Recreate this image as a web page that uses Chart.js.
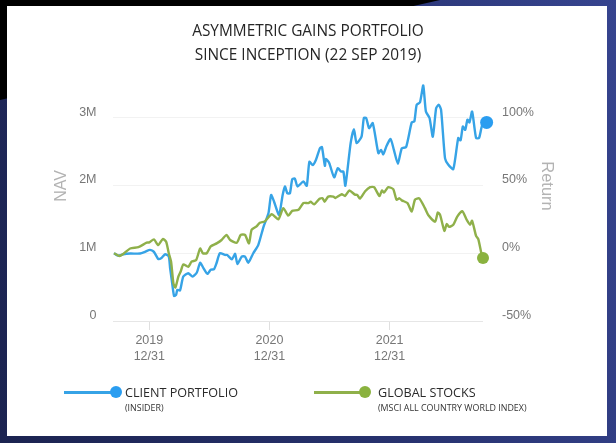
<!DOCTYPE html>
<html><head><meta charset="utf-8">
<script src="https://cdn.jsdelivr.net/npm/chart.js@4/dist/chart.umd.min.js"></script>
<style>
html,body{margin:0;padding:0;width:616px;height:443px;overflow:hidden;background:linear-gradient(75deg,#1b2350 0%,#27326f 55%,#36448f 100%);}
#corner{position:absolute;left:0;top:0;width:616px;height:443px;background:#000;clip-path:polygon(0 0,440px 0,0 100px);}
#panel{position:absolute;left:7px;top:6px;width:600px;height:430px;background:#fff;}
canvas{position:absolute;left:0;top:0;}
.lg{position:absolute;font-family:"Open Sans",sans-serif;white-space:nowrap;color:#2a2a2a;}
.main{font-size:12.6px;top:385px;line-height:16px;}
.sub{font-size:8.9px;top:401.5px;line-height:11px;color:#333;}
.ln{position:absolute;height:3px;top:391px;}
.dt{position:absolute;width:12px;height:12px;border-radius:50%;top:386px;}
.ax{position:absolute;width:80px;height:20px;line-height:20px;text-align:center;font-family:"Liberation Sans",Arial,sans-serif;color:#b3b3b3;}
</style></head>
<body>
<div id="corner"></div><div id="panel"></div>
<canvas id="c" width="616" height="443"></canvas>
<div class="ax" style="left:21px;top:175.5px;font-size:16px;transform:rotate(-90deg)">NAV</div>
<div class="ax" style="left:508px;top:176px;font-size:16.5px;transform:rotate(90deg)">Return</div>
<div class="ln" style="left:64px;width:50px;background:#36a3e6"></div><div class="dt" style="left:110px;background:#2a9df0"></div>
<div class="lg main" style="left:125px">CLIENT PORTFOLIO</div><div class="lg sub" style="left:125px">(INSIDER)</div>
<div class="ln" style="left:314px;width:48px;background:#8fb04a"></div><div class="dt" style="left:359px;background:#8ab23f"></div>
<div class="lg main" style="left:378px">GLOBAL STOCKS</div><div class="lg sub" style="left:378px">(MSCI ALL COUNTRY WORLD INDEX)</div>
<script>
const titleLines = ["ASYMMETRIC GAINS PORTFOLIO","SINCE INCEPTION (22 SEP 2019)"];
const xTickDays = [107,471,835];
const xTickLabels = [["2019","12/31"],["2020","12/31"],["2021","12/31"]];
const navTicks = [0,1,2,3];
const returnTicks = [-50,0,50,100];
const clientDays = [0,13,28,49,79,94,109,121,134,144,155,166,170,175,182,188,192,200,210,225,238,251,261,271,283,293,303,311,321,336,343,357,367,374,387,397,407,422,437,453,468,476,485,500,511,518,525,533,540,548,556,574,584,592,602,612,624,630,639,642,652,667,678,688,695,701,717,727,735,750,757,764,773,784,801,809,816,826,838,848,860,872,885,902,910,917,927,937,945,956,966,976,984,991,1003,1013,1028,1043,1050,1057,1064,1071,1077,1085,1097,1106,1116,1129];
const clientNav = [1.00,.965,.985,.995,.995,1.02,1.05,1.02,.915,.93,.985,.95,.78,.605,.37,.385,.46,.45,.655,.705,.655,.715,.86,.78,.695,.755,.765,.86,1.00,.975,.975,.91,.99,.84,.95,.95,.86,1.0,1.12,1.39,1.59,1.86,1.76,1.565,1.86,1.985,1.885,1.885,2.09,2.10,1.985,2.06,1.995,2.35,2.30,2.38,2.55,2.565,2.29,2.39,2.33,2.12,2.255,2.205,2.205,1.995,2.625,2.83,2.625,2.72,2.995,2.995,2.845,2.92,2.475,2.525,2.46,2.585,2.685,2.525,2.32,2.55,2.565,2.93,2.945,3.19,3.225,3.475,3.09,2.995,2.72,3.14,3.19,3.115,2.40,2.305,2.24,2.70,2.665,2.87,2.82,2.97,2.93,3.09,2.70,2.70,2.895,2.93];
const globalDays = [0,16,28,49,74,99,107,121,134,148,158,166,173,180,186,195,202,210,225,235,249,261,269,281,293,311,326,341,352,372,384,397,409,417,432,442,457,478,498,513,528,540,559,574,589,596,606,622,632,638,649,665,670,690,700,713,730,737,745,761,776,788,804,812,818,831,846,856,865,872,889,902,912,925,942,952,973,981,988,1001,1008,1015,1028,1040,1055,1069,1079,1085,1097,1104,1114,1118];
const globalNav = [1.00,.96,.99,1.07,1.09,1.155,1.16,1.205,1.12,1.21,1.17,1.0,.875,.555,.495,.655,.73,.835,.80,.875,.90,1.07,1.0,1.0,1.10,1.145,1.195,1.27,1.195,1.155,1.27,1.27,1.145,1.345,1.395,1.45,1.47,1.575,1.50,1.665,1.555,1.625,1.64,1.74,1.74,1.76,1.72,1.80,1.81,1.76,1.835,1.835,1.815,1.87,1.845,1.925,1.865,1.86,1.805,1.915,1.975,1.975,1.845,1.925,1.895,1.975,1.945,1.79,1.81,1.78,1.74,1.615,1.79,1.81,1.665,1.565,1.465,1.60,1.565,1.33,1.43,1.39,1.42,1.54,1.62,1.49,1.42,1.48,1.255,1.205,.975,.93];

const pairs = (xs,ys)=>xs.map((x,i)=>({x,y:ys[i]}));
const endDot = (r)=>(ctx)=>ctx.dataIndex===ctx.dataset.data.length-1?r:0;
const tickFont = {family:'"Liberation Sans",Arial,sans-serif',size:12.5,lineHeight:1.28};
const tickColor = '#777';

new Chart(document.getElementById('c'),{
  type:'line',
  data:{datasets:[
    {label:'Client Portfolio',data:pairs(clientDays,clientNav),borderColor:'#36a3e6',backgroundColor:'#2a9df0',borderWidth:2.4,tension:.2,clip:false,pointRadius:endDot(6.5),pointHoverRadius:0,pointBorderWidth:0,yAxisID:'y',order:2},
    {label:'Global Stocks',data:pairs(globalDays,globalNav),borderColor:'#8fb04a',backgroundColor:'#8ab23f',borderWidth:2.4,tension:.2,clip:false,pointRadius:endDot(6),pointHoverRadius:0,pointBorderWidth:0,yAxisID:'y',order:1}
  ]},
  options:{
    responsive:false,animation:false,
    layout:{padding:0},
    plugins:{
      legend:{display:false},tooltip:{enabled:false},
      title:{display:true,text:titleLines,color:'#262626',font:{family:'"Open Sans",sans-serif',size:15.4,weight:'normal',lineHeight:1.5},padding:{top:20.5,bottom:10.3}}
    },
    scales:{
      x:{type:'linear',min:-3,max:1118,
        afterBuildTicks:s=>{s.ticks=xTickDays.map(v=>({value:v}));},
        afterFit:s=>{s.height=122;},
        border:{display:false},
        grid:{drawOnChartArea:false,tickLength:9,tickColor:'#dfdfdf'},
        ticks:{autoSkip:false,maxRotation:0,minRotation:0,padding:3,color:tickColor,font:tickFont,
          callback:(v)=>xTickLabels[xTickDays.indexOf(v)]}
      },
      y:{position:'left',min:0,max:3.6,
        afterBuildTicks:s=>{s.ticks=navTicks.map(v=>({value:v}));},
        afterFit:s=>{s.width=113;},
        border:{display:false},
        grid:{color:(c)=>c.tick&&c.tick.value===0?'#e6e6e6':'#f2f2f2',drawTicks:false,lineWidth:1},
        ticks:{padding:16.5,labelOffset:-5.5,color:tickColor,font:tickFont,callback:v=>v===0?'0':v+'M'}
      },
      y1:{position:'right',min:-50,max:130,
        afterBuildTicks:s=>{s.ticks=returnTicks.map(v=>({value:v}));},
        afterFit:s=>{s.width=133;},
        border:{display:false},
        grid:{drawOnChartArea:false,drawTicks:false},
        ticks:{padding:19,labelOffset:-5.5,color:tickColor,font:tickFont,callback:v=>v+'%'}
      }
    }
  }
});
</script>
</body></html>
